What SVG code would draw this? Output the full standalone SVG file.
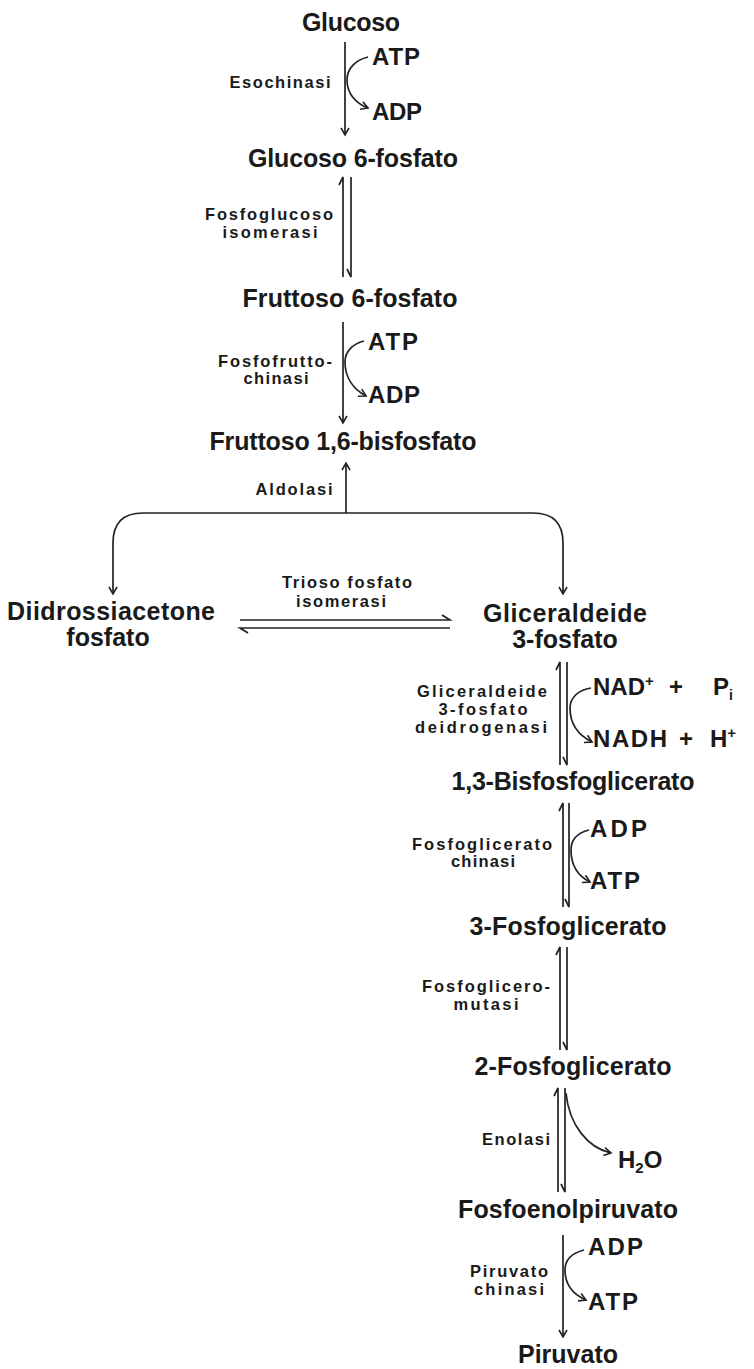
<svg xmlns="http://www.w3.org/2000/svg" width="754" height="1369" viewBox="0 0 754 1369">
<defs>
<marker id="ah" viewBox="-1 -5 10 10" refX="7" refY="0" markerWidth="10" markerHeight="10" markerUnits="userSpaceOnUse" orient="auto">
<path d="M0,-4 L7,0 L0,4" fill="none" stroke="#222" stroke-width="1.6"/>
</marker>
</defs>
<style>
text{font-family:"Liberation Sans",Arial,Helvetica,sans-serif;fill:#1a1a1a}
.m{font-size:25px;font-weight:bold;text-anchor:middle}
.c{font-size:24px;font-weight:bold;text-anchor:start}
.e{font-size:16.5px;font-weight:bold;text-anchor:middle}
.ln{fill:none;stroke:#222;stroke-width:1.7}
.ar{fill:none;stroke:#222;stroke-width:1.7;marker-end:url(#ah)}
</style>
<rect width="754" height="1369" fill="#fff"/>

<g id="connectors">
<path class="ar" d="M345,42 L345,135"/>
<path class="ar" d="M368,57 C356,60 347,68 347,80 C347,93 355,103 368,108"/>
<path class="ln" d="M343,277 L343,177 L339,185"/>
<path class="ln" d="M351,177 L351,277 L347,269"/>
<path class="ar" d="M343,322 L343,423"/>
<path class="ar" d="M364,341 C352,344 345,352 345,362 C345,377 353,389 366,396"/>
<path class="ar" d="M346,513 L346,463"/>
<path class="ar" d="M346,513 L143,513 Q113,513 113,543 L113,594"/>
<path class="ar" d="M346,513 L533,513 Q563,513 563,543 L563,594"/>
<path class="ln" d="M240,620 L450,620 L442,615"/>
<path class="ln" d="M450,628 L240,628 L248,633"/>
<path class="ln" d="M560,765 L560,662 L556,670"/>
<path class="ln" d="M567,662 L567,765 L563,757"/>
<path class="ar" d="M591,688 C578,690 570,698 570,708 C570,723 578,735 592,742"/>
<path class="ln" d="M563,907 L563,803 L559,811"/>
<path class="ln" d="M569,803 L569,907 L565,899"/>
<path class="ar" d="M589,830 C577,833 571,840 571,850 C571,865 578,876 590,882"/>
<path class="ln" d="M560,1050 L560,947 L556,955"/>
<path class="ln" d="M567,947 L567,1050 L563,1042"/>
<path class="ln" d="M558,1192 L558,1088 L554,1096"/>
<path class="ln" d="M565,1088 L565,1192 L561,1184"/>
<path class="ar" d="M566,1093 C569,1125 588,1148 611,1153"/>
<path class="ar" d="M563,1235 L563,1337"/>
<path class="ar" d="M584,1250 C572,1253 565,1260 565,1270 C565,1284 572,1294 586,1300"/>
</g>

<g id="glucoso"><text class="m" x="351" y="31" textLength="98" lengthAdjust="spacing">Glucoso</text></g>
<g id="esochinasi"><text class="e" x="280" y="88" textLength="101" lengthAdjust="spacing">Esochinasi</text></g>
<g id="atp1"><text class="c" x="372" y="65" textLength="48" lengthAdjust="spacing">ATP</text></g>
<g id="adp1"><text class="c" x="372" y="120" textLength="50" lengthAdjust="spacing">ADP</text></g>
<g id="glucoso6p"><text class="m" x="353" y="167" textLength="210" lengthAdjust="spacing">Glucoso 6-fosfato</text></g>
<g id="fosfoglucoso-isomerasi"><text class="e" x="269" y="220" textLength="128" lengthAdjust="spacing">Fosfoglucoso</text><text class="e" x="270" y="238" textLength="95" lengthAdjust="spacing">isomerasi</text></g>
<g id="fruttoso6p"><text class="m" x="350" y="307" textLength="215" lengthAdjust="spacing">Fruttoso 6-fosfato</text></g>
<g id="fosfofruttochinasi"><text class="e" x="275" y="367" textLength="114" lengthAdjust="spacing">Fosfofrutto-</text><text class="e" x="276" y="384" textLength="65" lengthAdjust="spacing">chinasi</text></g>
<g id="atp2"><text class="c" x="368" y="350" textLength="50" lengthAdjust="spacing">ATP</text></g>
<g id="adp2"><text class="c" x="368" y="403" textLength="52" lengthAdjust="spacing">ADP</text></g>
<g id="fruttoso16bp"><text class="m" x="343" y="450" textLength="267" lengthAdjust="spacing">Fruttoso 1,6-bisfosfato</text></g>
<g id="aldolasi"><text class="e" x="294" y="495" textLength="77" lengthAdjust="spacing">Aldolasi</text></g>
<g id="dhap"><text class="m" x="111" y="620" textLength="208" lengthAdjust="spacing">Diidrossiacetone</text><text class="m" x="108" y="646">fosfato</text></g>
<g id="tpi"><text class="e" x="347" y="588" textLength="130" lengthAdjust="spacing">Trioso fosfato</text><text class="e" x="341" y="607" textLength="90" lengthAdjust="spacing">isomerasi</text></g>
<g id="g3p"><text class="m" x="565" y="622" textLength="164" lengthAdjust="spacing">Gliceraldeide</text><text class="m" x="565" y="648">3-fosfato</text></g>
<g id="gapdh"><text class="e" x="482" y="697" textLength="130" lengthAdjust="spacing">Gliceraldeide</text><text class="e" x="483" y="715" textLength="89" lengthAdjust="spacing">3-fosfato</text><text class="e" x="481" y="733" textLength="132" lengthAdjust="spacing">deidrogenasi</text></g>
<g id="nad"><text class="c" x="593" y="695">NAD<tspan font-size="15" dy="-9">+</tspan></text><text class="c" x="669" y="695">+</text><text class="c" x="713" y="695">P<tspan font-size="14" dy="5">i</tspan></text></g>
<g id="nadh"><text class="c" x="593" y="747" textLength="74" lengthAdjust="spacing">NADH</text><text class="c" x="679" y="747">+</text><text class="c" x="710" y="747">H<tspan font-size="15" dy="-9">+</tspan></text></g>
<g id="bpg13"><text class="m" x="573" y="790" textLength="243" lengthAdjust="spacing">1,3-Bisfosfoglicerato</text></g>
<g id="pgk"><text class="e" x="482" y="850" textLength="140" lengthAdjust="spacing">Fosfoglicerato</text><text class="e" x="483" y="867" textLength="64" lengthAdjust="spacing">chinasi</text></g>
<g id="adp3"><text class="c" x="590" y="837" textLength="57" lengthAdjust="spacing">ADP</text></g>
<g id="atp3"><text class="c" x="590" y="889" textLength="50" lengthAdjust="spacing">ATP</text></g>
<g id="pg3"><text class="m" x="568" y="935" textLength="197" lengthAdjust="spacing">3-Fosfoglicerato</text></g>
<g id="pgm"><text class="e" x="486" y="992" textLength="128" lengthAdjust="spacing">Fosfoglicero-</text><text class="e" x="486" y="1010" textLength="65" lengthAdjust="spacing">mutasi</text></g>
<g id="pg2"><text class="m" x="573" y="1075" textLength="197" lengthAdjust="spacing">2-Fosfoglicerato</text></g>
<g id="enolasi"><text class="e" x="516" y="1145" textLength="68" lengthAdjust="spacing">Enolasi</text></g>
<g id="h2o"><text class="c" x="618" y="1168">H<tspan font-size="15" dy="5">2</tspan><tspan dy="-5">O</tspan></text></g>
<g id="pep"><text class="m" x="568" y="1218" textLength="220" lengthAdjust="spacing">Fosfoenolpiruvato</text></g>
<g id="pk"><text class="e" x="509" y="1277" textLength="78" lengthAdjust="spacing">Piruvato</text><text class="e" x="509" y="1295" textLength="70" lengthAdjust="spacing">chinasi</text></g>
<g id="adp4"><text class="c" x="588" y="1255" textLength="55" lengthAdjust="spacing">ADP</text></g>
<g id="atp4"><text class="c" x="588" y="1310" textLength="50" lengthAdjust="spacing">ATP</text></g>
<g id="piruvato"><text class="m" x="568" y="1363" textLength="100" lengthAdjust="spacing">Piruvato</text></g>
</svg>
